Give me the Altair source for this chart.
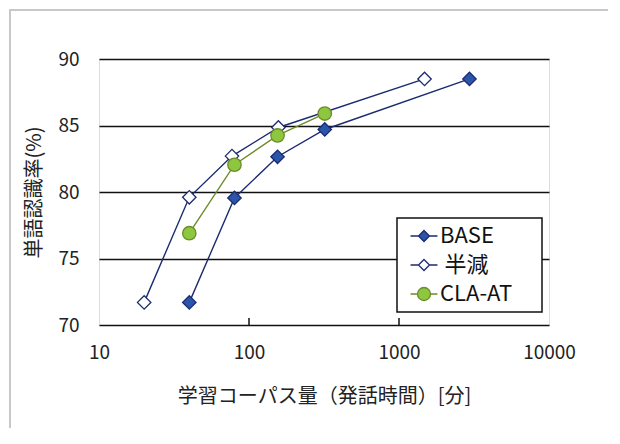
import altair as alt
import pandas as pd

series_names = ["BASE", "半減", "CLA-AT"]

base_x = [40, 80, 155, 320, 2950]
base_y = [71.7, 79.55, 82.65, 84.7, 88.5]

half_x = [20, 40, 77, 157, 1480]
half_y = [71.7, 79.6, 82.7, 84.85, 88.5]

cla_x = [40, 80, 155, 320]
cla_y = [76.9, 82.05, 84.25, 85.9]

x_ticks = [10, 100, 1000, 10000]
y_ticks = [70, 75, 80, 85, 90]
inner_ticks = [100, 1000]

x_title = "学習コーパス量（発話時間）[分]"
y_title = "単語認識率(%)"

fill_colors = ["#2A55A8", "#FFFFFF", "#8DC63F"]
stroke_colors = ["#1C2A70", "#1C2A70", "#6E8B2A"]
shapes = ["diamond", "diamond", "circle"]

rows = []
for name, xs, ys in zip(series_names, [base_x, half_x, cla_x], [base_y, half_y, cla_y]):
    for i, (xv, yv) in enumerate(zip(xs, ys)):
        rows.append({"series": name, "x": xv, "y": yv, "i": i})
df = pd.DataFrame(rows)
df["order"] = df["series"].map({n: k for k, n in enumerate(series_names)})

FONT = "Noto Sans CJK JP"

xscale = alt.Scale(type="log", domain=[10, 10000], nice=False)
yscale = alt.Scale(domain=[70, 90], nice=False, zero=False)

x_enc = alt.X("x:Q", scale=xscale,
              axis=alt.Axis(values=x_ticks, format="d", title=x_title, grid=False,
                            ticks=False, tickSize=0, domain=False, labelPadding=18,
                            labelFontSize=19, titleFontSize=20, titlePadding=24,
                            labelFont=FONT, titleFont=FONT, labelColor="#222222",
                            titleColor="#222222", titleFontWeight="normal",
                            labelFlush=False))
y_enc = alt.Y("y:Q", scale=yscale,
              axis=alt.Axis(values=y_ticks, title=y_title, grid=True, gridColor="#111111",
                            gridWidth=1.6, ticks=False, tickSize=0, domain=False,
                            labelPadding=20, labelFontSize=19, titleFontSize=20,
                            titlePadding=13, labelFont=FONT, titleFont=FONT,
                            labelColor="#222222", titleColor="#222222",
                            titleFontWeight="normal"))

stroke_scale = alt.Scale(domain=series_names, range=stroke_colors)
fill_scale = alt.Scale(domain=series_names, range=fill_colors)
shape_scale = alt.Scale(domain=series_names, range=shapes)

diamond_leg = "M-2.45,0L-1,0M1,0L2.45,0M0,-1L1,0L0,1L-1,0Z"
circle_leg = "M-2.45,0L-1.18,0M1.18,0L2.45,0M1.18,0A1.18,1.18,0,1,1,-1.18,0A1.18,1.18,0,1,1,1.18,0Z"
legend_shape_scale = alt.Scale(domain=series_names, range=[diamond_leg, diamond_leg, circle_leg])

ZW = "\u200b"
THIN = "\u2009"
WIDE = "\u3000"
legend = alt.Legend(
    title=None, orient="none", legendX=298, legendY=159,
    fillColor="#FFFFFF",
    labelFont=FONT, labelFontSize=22, labelColor="#111111",
    symbolSize=121, symbolStrokeWidth=1.3, labelOffset=5, symbolOffset=9,
    labelExpr=(f"datum.label == '半減' ? '{ZW}{THIN}' + datum.label "
               f": datum.label + '{WIDE}{ZW}'"),
)

lines = alt.Chart(df).mark_line(strokeWidth=1.4).encode(
    x=x_enc, y=y_enc,
    stroke=alt.Stroke("series:N", scale=stroke_scale, legend=None),
    detail="series:N",
    order="i:Q",
)

points = alt.Chart(df).mark_point(filled=True, opacity=1, size=180, strokeWidth=1.3).encode(
    x=alt.X("x:Q", scale=xscale),
    y=alt.Y("y:Q", scale=yscale),
    fill=alt.Fill("series:N", scale=fill_scale, legend=None),
    stroke=alt.Stroke("series:N", scale=stroke_scale, legend=None),
    shape=alt.Shape("series:N", scale=shape_scale, legend=None),
    order="order:Q",
)

# legend-only layer: points sit outside the x domain and are clipped away
leg_df = pd.DataFrame({"series": series_names, "x": [1, 1, 1], "y": [80, 80, 80]})
legend_layer = alt.Chart(leg_df).mark_point(filled=True, opacity=1, size=121,
                                            strokeWidth=1.3, clip=True).encode(
    x=alt.X("x:Q", scale=xscale),
    y=alt.Y("y:Q", scale=yscale),
    fill=alt.Fill("series:N", scale=fill_scale, legend=legend),
    stroke=alt.Stroke("series:N", scale=stroke_scale, legend=legend),
    shape=alt.Shape("series:N", scale=legend_shape_scale, legend=legend),
)

tick_df = pd.DataFrame({"x": inner_ticks})
ticks = alt.Chart(tick_df).mark_rule(color="#111111", strokeWidth=1.5).encode(
    x=alt.X("x:Q", scale=xscale),
    y=alt.value(259), y2=alt.value(266),
)

one = pd.DataFrame({"a": [0]})
frame_left = alt.Chart(one).mark_rule(color="#C8C8C8", strokeWidth=2).encode(
    x=alt.value(-89), y=alt.value(-50), y2=alt.value(400))
frame_top = alt.Chart(one).mark_rule(color="#C8C8C8", strokeWidth=2).encode(
    x=alt.value(-90), x2=alt.value(530), y=alt.value(-49))

chart = alt.layer(frame_left, frame_top, lines, ticks, points, legend_layer).resolve_scale(
    shape="independent", fill="independent", stroke="independent"
).properties(
    width=450, height=266,
    autosize=alt.AutoSizeParams(type="none"),
    padding={"left": 91, "top": 51, "right": 59, "bottom": 103},
).configure_view(stroke="#111111", strokeWidth=1.6).configure(
    background="#FFFFFF"
).configure_legend(strokeColor="#111111", strokeWidth=1.5, padding=7, rowPadding=7)

chart.save("out.html", embed_options={"renderer": "svg", "actions": False})
